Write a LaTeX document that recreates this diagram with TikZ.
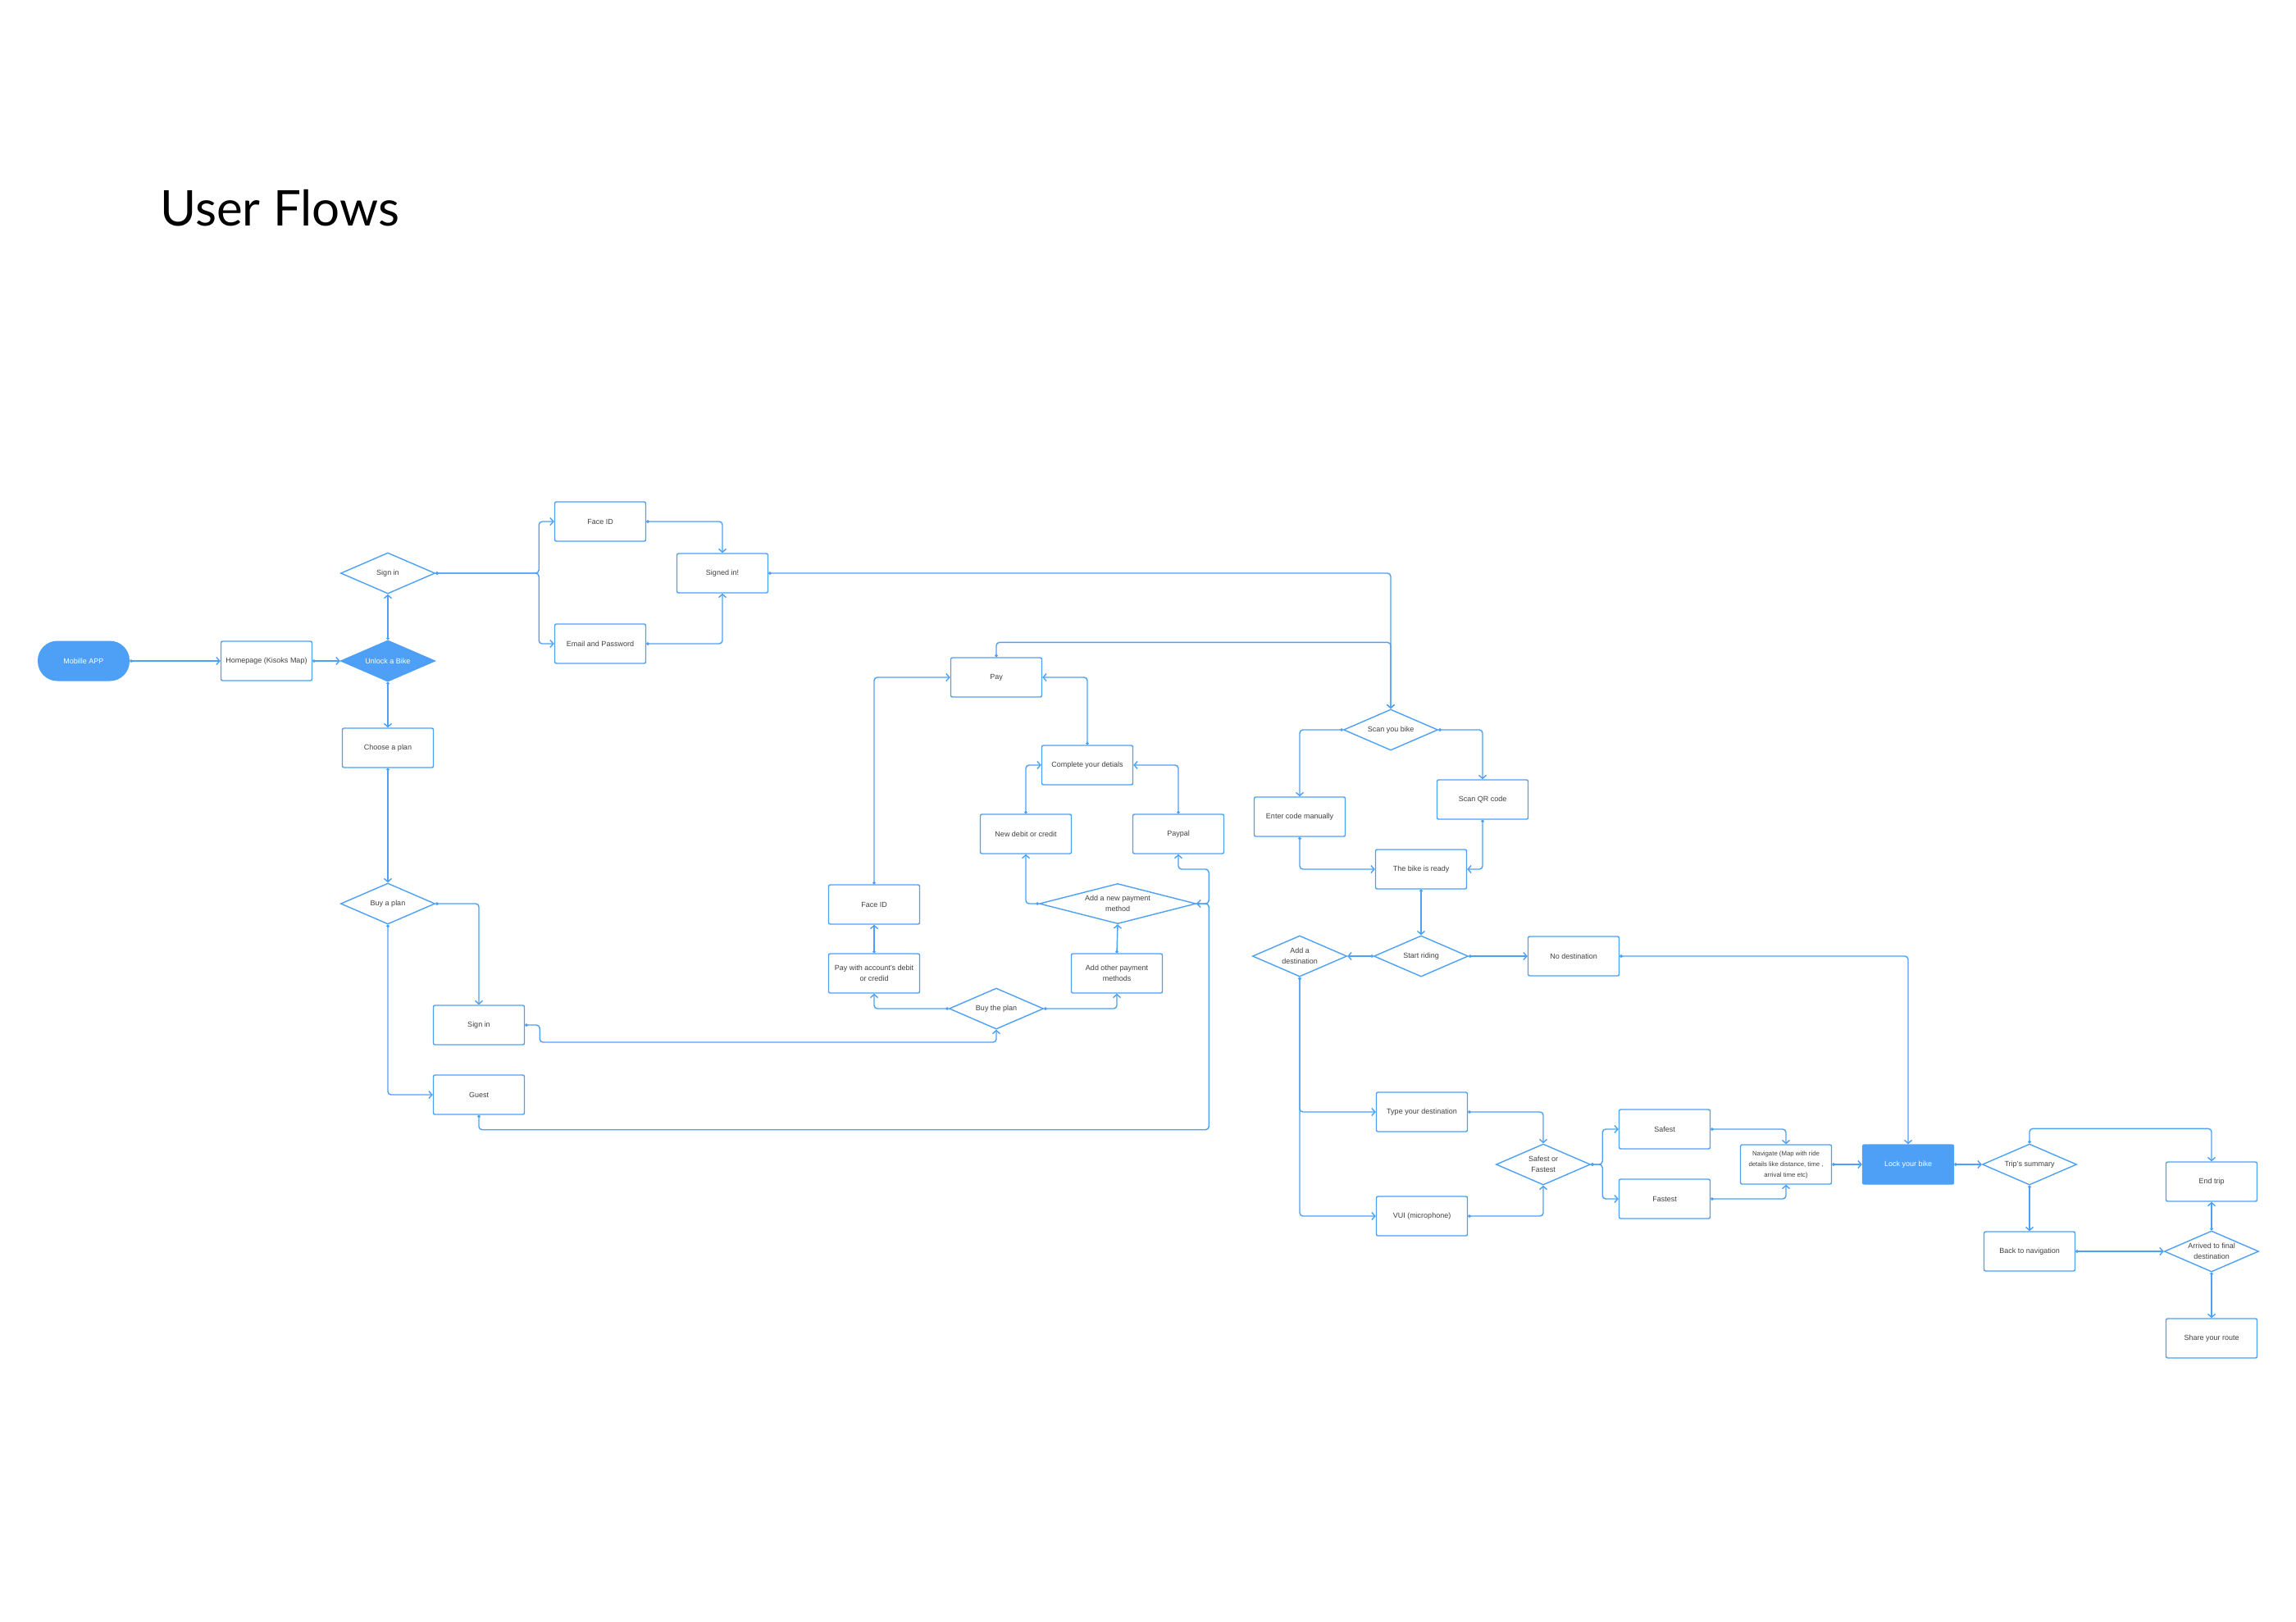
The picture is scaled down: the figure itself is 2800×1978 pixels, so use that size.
\documentclass[tikz,border=0pt]{standalone}
\usepackage{fontspec}
\setmainfont{Liberation Sans}
\newfontfamily\titlefont{Lato}
\usetikzlibrary{shapes.geometric,arrows.meta}
\definecolor{flowblue}{RGB}{77,160,246}
\definecolor{flowtext}{RGB}{64,64,64}

\begin{document}
\begin{tikzpicture}
  [x=1pt,y=-1pt,
   every node/.style={font=\fontsize{9}{13}\selectfont,text=flowtext,align=center},
   flowbox/.style={rectangle,draw=flowblue,line width=1.4pt,rounded corners=2pt,
     minimum width=111pt,minimum height=48pt,inner sep=2pt},
   filledbox/.style={flowbox,fill=flowblue,text=white},
   terminal/.style={rectangle,rounded corners=24pt,fill=flowblue,text=white,
     minimum width=112pt,minimum height=49pt},
   decision/.style={diamond,draw=flowblue,line width=1.4pt,aspect=2.3,inner sep=1pt,
     minimum width=115pt,minimum height=50pt},
   decisionfill/.style={decision,fill=flowblue,text=white},
   link/.style={draw=flowblue,line width=1.4pt,rounded corners=4pt,
     {Circle[length=3.5pt]}-{Straight Barb[length=4pt,width=9pt]}}]
  \fill[white] (0,0) rectangle (2800,1978);
  \useasboundingbox (0,0) rectangle (2800,1978);

  \node[anchor=base west,text=black,font=\titlefont\fontsize{60}{60}\selectfont] (title) at (192,275) {User Flows};

  % sign in and plans
  \node[terminal] (mobile) at (102,806) {Mobille APP};
  \node[flowbox] (home) at (325,806) {Homepage (Kisoks Map)};
  \node[decisionfill] (unlock) at (473,806) {Unlock a Bike};
  \node[decision] (signinq) at (473,699) {Sign in};
  \node[flowbox] (faceid) at (732,636) {Face ID};
  \node[flowbox] (email) at (732,785) {Email and Password};
  \node[flowbox] (signed) at (881,699) {Signed in!};
  \node[flowbox] (plan) at (473,912) {Choose a plan};
  \node[decision] (buyplan) at (473,1102) {Buy a plan};
  \node[flowbox] (signinb) at (584,1250) {Sign in};
  \node[flowbox] (guest) at (584,1335) {Guest};

  % payment
  \node[flowbox] (pay) at (1215,826) {Pay};
  \node[flowbox] (payface) at (1066,1103) {Face ID};
  \node[flowbox] (payacct) at (1066,1187) {Pay with account's debit\\or credid};
  \node[decision] (buythe) at (1215,1230) {Buy the plan};
  \node[flowbox] (addother) at (1362,1187) {Add other payment\\methods};
  \node[decision,aspect=4,minimum width=191pt,minimum height=49pt] (addnew) at (1363,1102) {Add a new payment\\method};
  \node[flowbox] (newdebit) at (1251,1017) {New debit or credit};
  \node[flowbox] (paypal) at (1437,1017) {Paypal};
  \node[flowbox] (complete) at (1326,933) {Complete your detials};

  % riding
  \node[decision] (scan) at (1696,890) {Scan you bike};
  \node[flowbox] (manual) at (1585,996) {Enter code manually};
  \node[flowbox] (qr) at (1808,975) {Scan QR code};
  \node[flowbox] (ready) at (1733,1060) {The bike is ready};
  \node[decision] (ride) at (1733,1166) {Start riding};
  \node[decision] (adddest) at (1585,1166) {Add a\\destination};
  \node[flowbox] (nodest) at (1919,1166) {No destination};
  \node[flowbox] (typedest) at (1734,1356) {Type your destination};
  \node[flowbox] (vui) at (1734,1483) {VUI (microphone)};
  \node[decision] (safefast) at (1882,1420) {Safest or\\Fastest};
  \node[flowbox] (safest) at (2030,1377) {Safest};
  \node[flowbox] (fastest) at (2030,1462) {Fastest};
  \node[flowbox,font=\fontsize{7.8}{13}\selectfont] (navigate) at (2178,1420) {Navigate (Map with ride\\details like distance, time ,\\arrival time etc)};
  \node[filledbox] (lock) at (2327,1420) {Lock your bike};
  \node[decision] (summary) at (2475,1420) {Trip's summary};
  \node[flowbox] (endtrip) at (2697,1441) {End trip};
  \node[flowbox] (backnav) at (2475,1526) {Back to navigation};
  \node[decision] (arrived) at (2697,1526) {Arrived to final\\destination};
  \node[flowbox] (share) at (2697,1632) {Share your route};

  \foreach \from/\to in {mobile.east/home.west,home.east/unlock.west,unlock.north/signinq.south,
      unlock.south/plan.north,plan.south/buyplan.north,payacct.north/payface.south,
      addother.north/addnew.south,ready.south/ride.north,ride.west/adddest.east,
      ride.east/nodest.west,navigate.east/lock.west,lock.east/summary.west,
      summary.south/backnav.north,backnav.east/arrived.west,arrived.north/endtrip.south,
      arrived.south/share.north}
    \draw[link] (\from) -- (\to);

  \foreach \from/\to in {faceid.east/signed.north,email.east/signed.south,signed.east/scan.north,
      buyplan.east/signinb.north,addnew.west/newdebit.south,buythe.west/payacct.south,
      buythe.east/addother.south,scan.west/manual.north,scan.east/qr.north,
      nodest.east/lock.north,typedest.east/safefast.north,vui.east/safefast.south,
      safest.east/navigate.north,fastest.east/navigate.south}
    \draw[link] (\from) -| (\to);

  \foreach \from/\to in {buyplan.south/guest.west,payface.north/pay.west,complete.north/pay.east,
      newdebit.north/complete.west,paypal.north/complete.east,manual.south/ready.west,
      qr.south/ready.east,adddest.south/typedest.west,adddest.south/vui.west}
    \draw[link] (\from) |- (\to);

  % elbows with an extra bend
  \draw[link] (signinq.east) -- ++(126,0) |- (faceid.west);
  \draw[link] (signinq.east) -- ++(126,0) |- (email.west);
  \draw[link] (pay.north) -- ++(0,-18) -| (scan.north);
  \draw[link] (signinb.east) -- ++(18,0) -- ++(0,21) -| (buythe.south);
  \draw[link] (guest.south) -- ++(0,18) -| ([xshift=15pt]addnew.east) -- (addnew.east);
  \draw[link] (addnew.east) -- ++(15,0) -- ++(0,-42) -| (paypal.south);
  \draw[link] (safefast.east) -- ++(14,0) |- (safest.west);
  \draw[link] (safefast.east) -- ++(14,0) |- (fastest.west);
  \draw[link] (summary.north) -- ++(0,-18) -| (endtrip.north);
\end{tikzpicture}
\end{document}
